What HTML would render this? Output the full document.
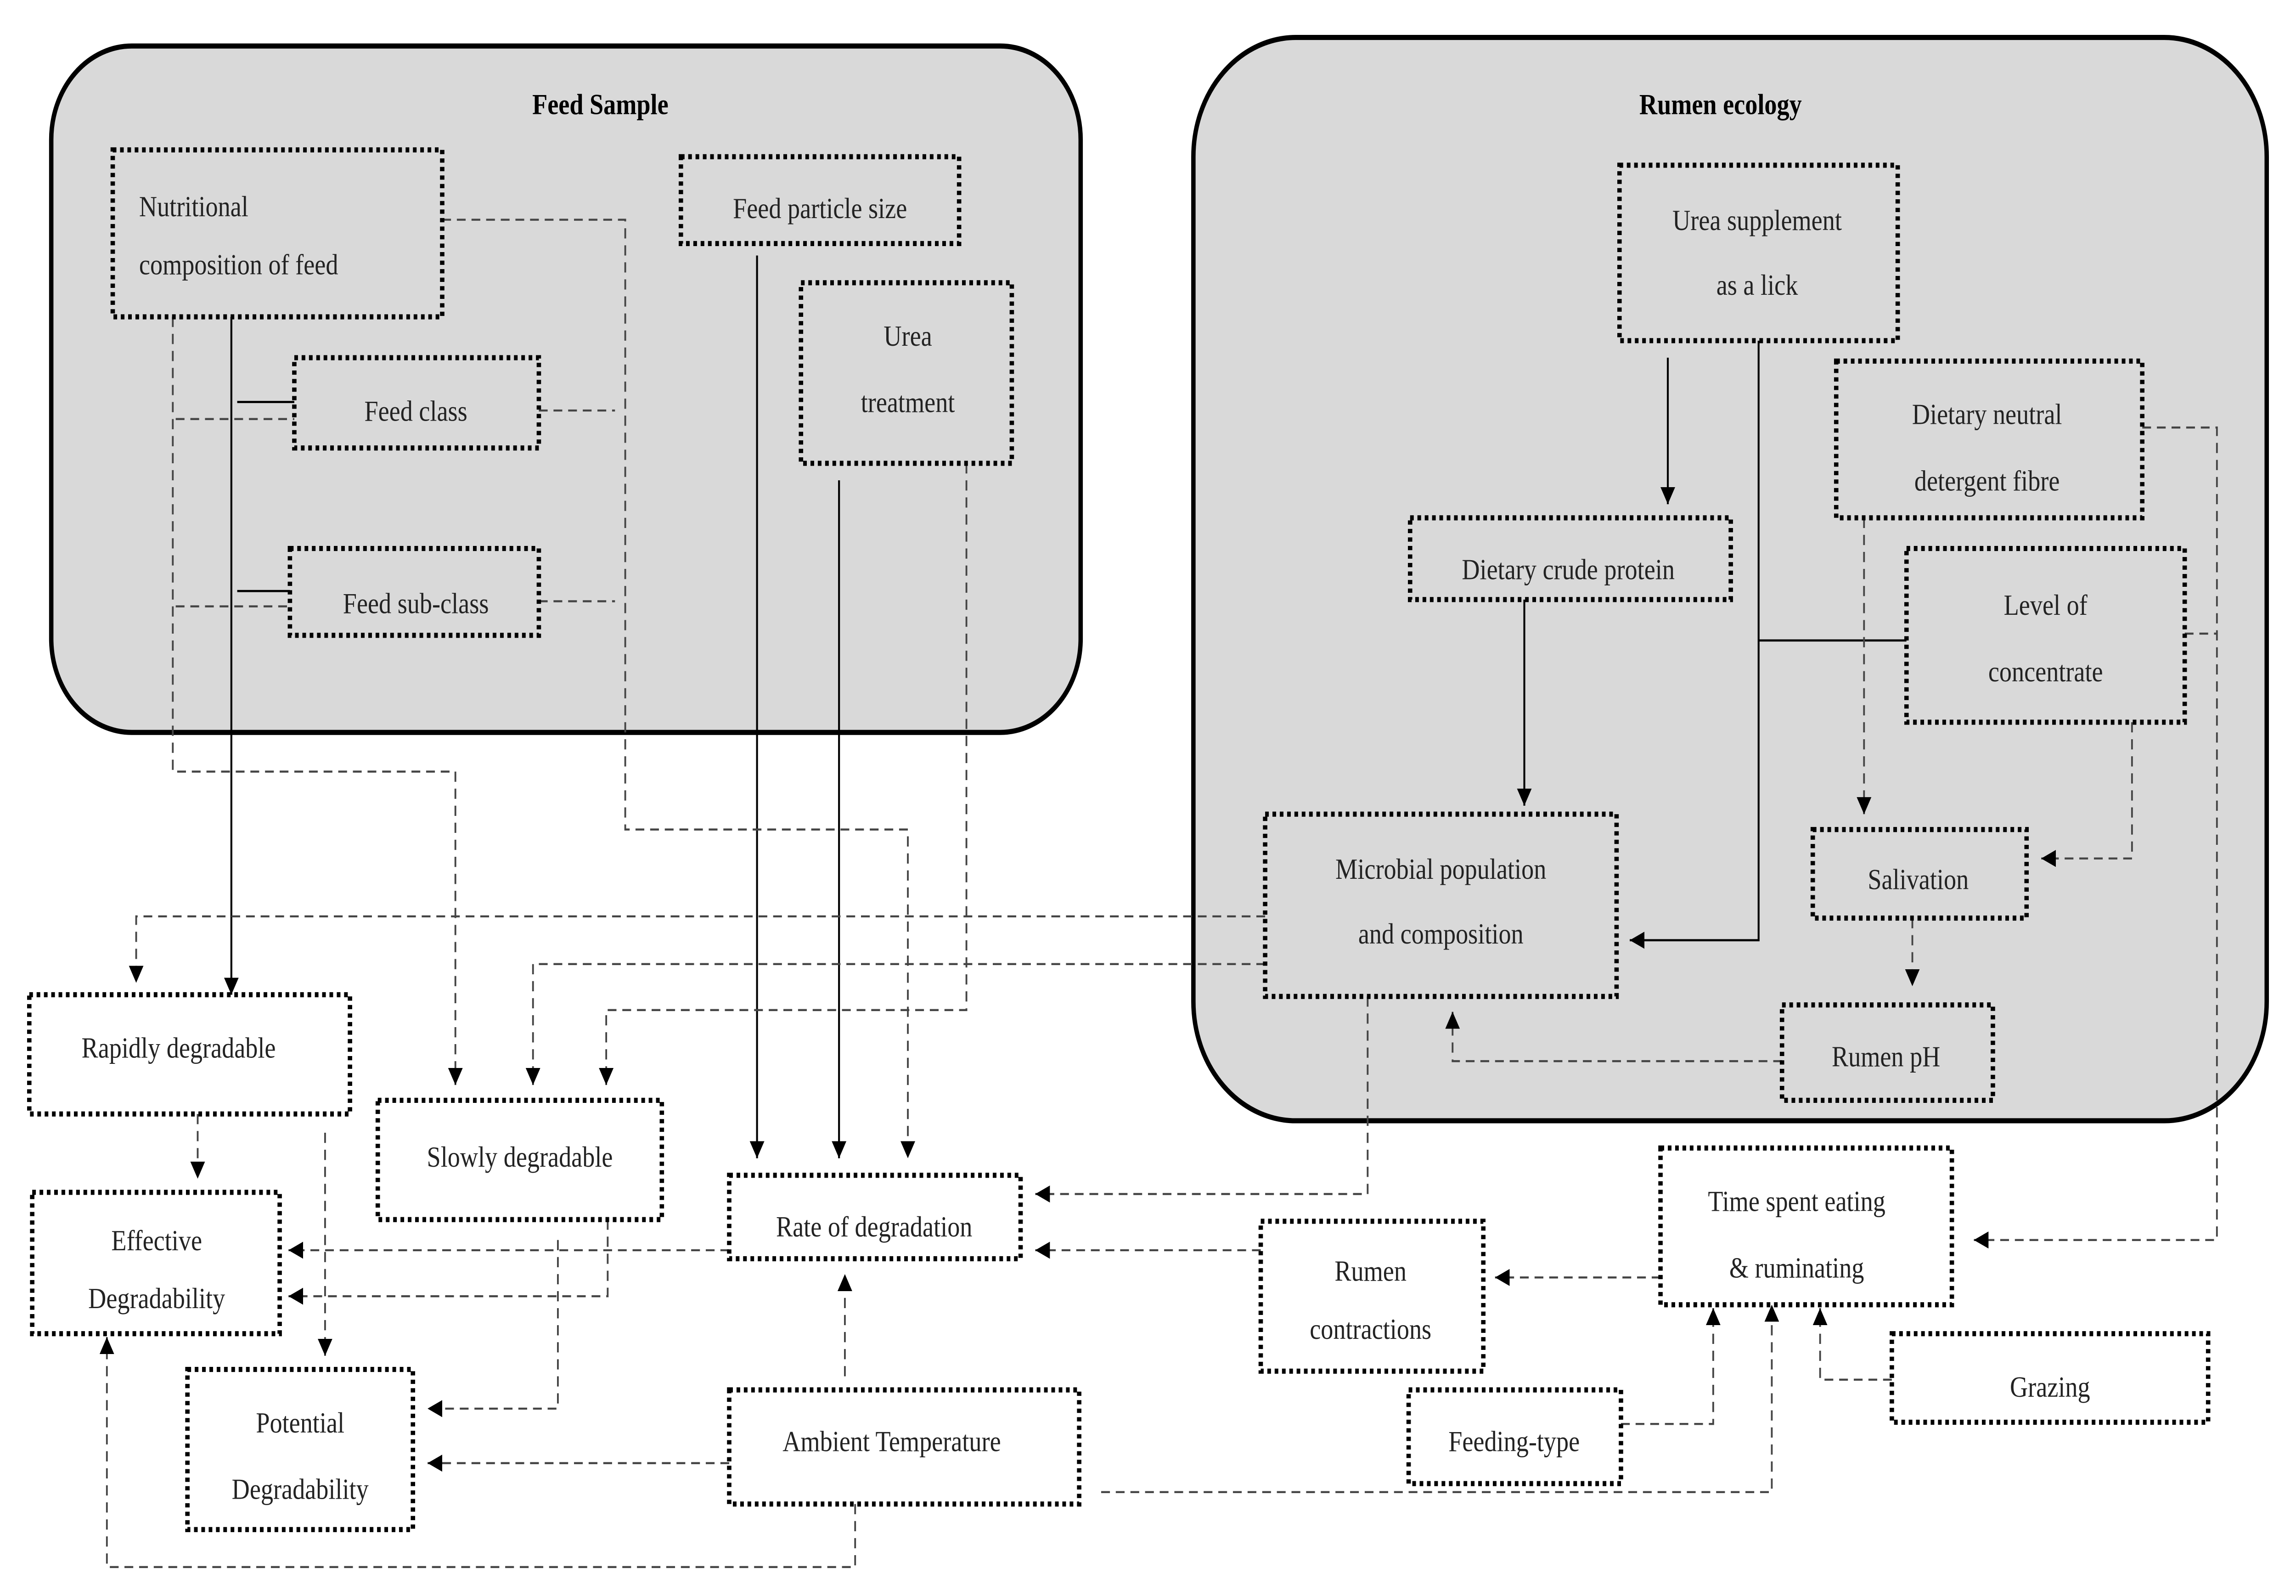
<!DOCTYPE html>
<html><head><meta charset="utf-8"><style>html,body{margin:0;padding:0;background:#fff;width:100%;height:100%;overflow:hidden}svg{display:block;position:fixed;left:0;top:0;width:100vw;height:100vh}</style></head><body>
<svg xmlns="http://www.w3.org/2000/svg" viewBox="0 0 1568 937" preserveAspectRatio="none">
<defs>
<marker id="a" viewBox="0 0 10 10" refX="10" refY="5" markerWidth="10" markerHeight="10" markerUnits="userSpaceOnUse" orient="auto"><path d="M0,0L10,5L0,10z" fill="#000"/></marker>
</defs>
<rect x="0" y="0" width="1568" height="937" fill="#fff"/>
<rect x="35" y="27" width="703" height="403" rx="55" fill="#d9d9d9" stroke="#000" stroke-width="3"/>
<rect x="815" y="22" width="733" height="636" rx="70" fill="#d9d9d9" stroke="#000" stroke-width="3"/>
<g font-family="Liberation Serif, serif" font-weight="bold" font-size="17" text-anchor="middle">
<text x="410" y="67">Feed Sample</text><text x="1175" y="67">Rumen ecology</text></g>

<g fill="none" stroke="#000" stroke-width="1.3">
<path d="M158,186V584" marker-end="url(#a)"/>
<path d="M162,236H201M162,347H198"/>
<path d="M517,150V680" marker-end="url(#a)"/>
<path d="M573,282V680" marker-end="url(#a)"/>
<path d="M1139,210V296" marker-end="url(#a)"/>
<path d="M1201,200V552H1113" marker-end="url(#a)"/>
<path d="M1302,376H1201"/>
<path d="M1041,352V473" marker-end="url(#a)"/>
</g>
<g fill="none" stroke="#444" stroke-width="1.2" stroke-dasharray="6 4">
<path d="M120,246H201M120,356H198"/>
<path d="M118,186V453H311V637" marker-end="url(#a)"/>
<path d="M302,129H427V487H620V680" marker-end="url(#a)"/>
<path d="M368,241H420M368,353H420"/>
<path d="M660,272V593H414V637" marker-end="url(#a)"/>
<path d="M1273,304V478" marker-end="url(#a)"/>
<path d="M1463,251H1514V728H1348" marker-end="url(#a)"/>
<path d="M1492,372H1514"/>
<path d="M1456,424V504H1394" marker-end="url(#a)"/>
<path d="M1306,539V579" marker-end="url(#a)"/>
<path d="M1217,623H992V594" marker-end="url(#a)"/>
<path d="M864,538H93V577" marker-end="url(#a)"/>
<path d="M864,566H364V637" marker-end="url(#a)"/>
<path d="M934,585V701H707" marker-end="url(#a)"/>
<path d="M135,654V692" marker-end="url(#a)"/>
<path d="M222,665V796" marker-end="url(#a)"/>
<path d="M381,728V827H292" marker-end="url(#a)"/>
<path d="M415,716V761H197" marker-end="url(#a)"/>
<path d="M498,734H197" marker-end="url(#a)"/>
<path d="M498,859H292" marker-end="url(#a)"/>
<path d="M577,808V748" marker-end="url(#a)"/>
<path d="M584,883V920H73V785" marker-end="url(#a)"/>
<path d="M752,876H1210V766" marker-end="url(#a)"/>
<path d="M861,734H707" marker-end="url(#a)"/>
<path d="M1134,750H1021" marker-end="url(#a)"/>
<path d="M1107,836H1170V768" marker-end="url(#a)"/>
<path d="M1292,810H1243V768" marker-end="url(#a)"/>
</g>

<g fill="#fff" stroke="#000" stroke-width="3" stroke-dasharray="2.5 2.5">
<rect x="77" y="88" width="225" height="98" fill="#d9d9d9"/>
<rect x="465" y="92" width="190" height="51" fill="#d9d9d9"/>
<rect x="547" y="166" width="144" height="106" fill="#d9d9d9"/>
<rect x="201" y="210" width="167" height="53" fill="#d9d9d9"/>
<rect x="198" y="322" width="170" height="51" fill="#d9d9d9"/>
<rect x="1106" y="97" width="190" height="103" fill="#d9d9d9"/>
<rect x="1254" y="212" width="209" height="92" fill="#d9d9d9"/>
<rect x="963" y="304" width="219" height="48" fill="#d9d9d9"/>
<rect x="1302" y="322" width="190" height="102" fill="#d9d9d9"/>
<rect x="864" y="478" width="240" height="107" fill="#d9d9d9"/>
<rect x="1238" y="487" width="146" height="52" fill="#d9d9d9"/>
<rect x="1217" y="590" width="144" height="56" fill="#d9d9d9"/>
<rect x="20" y="584" width="219" height="70"/>
<rect x="258" y="646" width="194" height="70"/>
<rect x="22" y="700" width="169" height="83"/>
<rect x="128" y="804" width="154" height="94"/>
<rect x="498" y="690" width="199" height="49"/>
<rect x="498" y="816" width="239" height="67"/>
<rect x="861" y="717" width="152" height="88"/>
<rect x="1134" y="674" width="199" height="92"/>
<rect x="962" y="816" width="145" height="55"/>
<rect x="1292" y="783" width="216" height="52"/>
</g>

<g font-family="Liberation Serif, serif" font-size="17" fill="#222" text-anchor="middle">
<text x="95" y="127" text-anchor="start">Nutritional</text>
<text x="95" y="161" text-anchor="start">composition of feed</text>
<text x="560" y="128">Feed particle size</text>
<text x="620" y="203">Urea</text><text x="620" y="242">treatment</text>
<text x="284" y="247">Feed class</text>
<text x="284" y="360">Feed sub-class</text>
<text x="1200" y="135">Urea supplement</text><text x="1200" y="173">as a lick</text>
<text x="1357" y="249">Dietary neutral</text><text x="1357" y="288">detergent fibre</text>
<text x="1071" y="340">Dietary crude protein</text>
<text x="1397" y="361">Level of</text><text x="1397" y="400">concentrate</text>
<text x="984" y="516">Microbial population</text><text x="984" y="554">and composition</text>
<text x="1310" y="522">Salivation</text>
<text x="1288" y="626">Rumen pH</text>
<text x="122" y="621">Rapidly degradable</text>
<text x="355" y="685">Slowly degradable</text>
<text x="107" y="734">Effective</text><text x="107" y="768">Degradability</text>
<text x="205" y="841">Potential</text><text x="205" y="880">Degradability</text>
<text x="597" y="726">Rate of degradation</text>
<text x="609" y="852">Ambient Temperature</text>
<text x="936" y="752">Rumen</text><text x="936" y="786">contractions</text>
<text x="1227" y="711">Time spent eating</text><text x="1227" y="750">&amp; ruminating</text>
<text x="1034" y="852">Feeding-type</text>
<text x="1400" y="820">Grazing</text>
</g>
</svg>
</body></html>
